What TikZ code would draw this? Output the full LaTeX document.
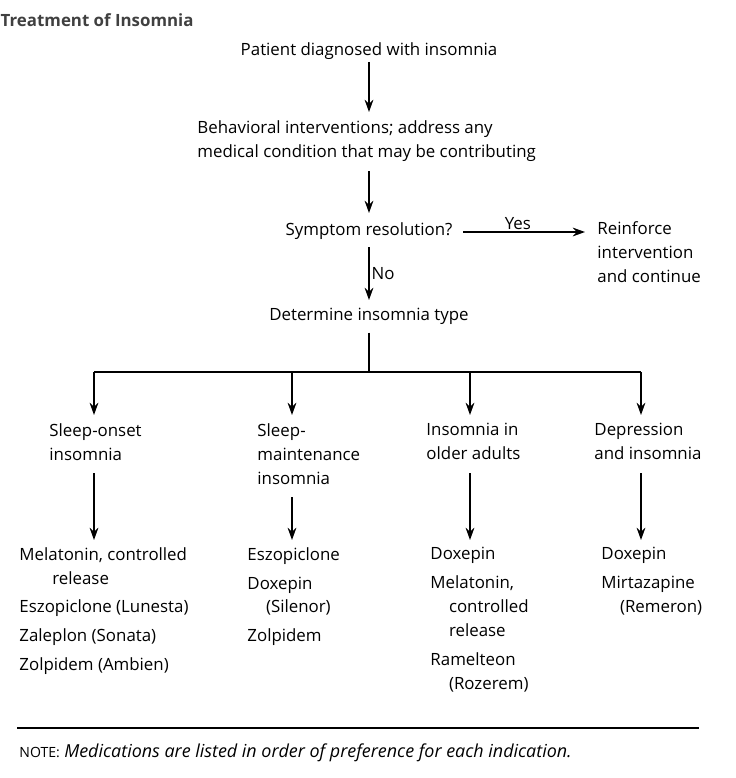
\documentclass[tikz,border=0pt]{standalone}
\usepackage{fontspec}
\setmainfont{Open Sans}
\usetikzlibrary{positioning,arrows.meta}
\begin{document}
\begin{tikzpicture}[x=0.02cm,y=-0.02cm,thick,
    txt/.style={font=\fontsize{9.6}{13.6}\selectfont,align=left,inner sep=1pt},
    flow/.style={-{Stealth[length=7pt,width=5pt]},line width=0.9pt}]
    \useasboundingbox (0,0) rectangle (736,778);
    % Title
    \node[anchor=west,font=\bfseries\fontsize{9.6}{12}\selectfont,text=black!75,inner sep=0pt] (title) at (0,20) {Treatment of Insomnia};
    % Main flow
    \node[txt] (diag) at (369,51) {Patient diagnosed with insomnia};
    \node[txt,anchor=north west] (behav) at (195,118) {Behavioral interventions; address any\\medical condition that may be contributing};
    \node[txt] (sympt) at (369,231) {Symptom resolution?};
    \node[txt,anchor=north west] (reinf) at (595,219) {Reinforce\\intervention\\and continue};
    \node[txt] (dtype) at (369,316) {Determine insomnia type};
    \draw[flow] (diag) -- (369,112);
    \draw[flow] (369,171) -- (369,213);
    \draw[flow] (463,232) -- node[above,txt,pos=0.45] {Yes} (585,232);
    \draw[flow] (369,247) -- node[right,txt] {No} (369,300);
    % Branches
    \coordinate (bra) at (369,372);
    \draw (dtype.south) ++(0,6) -- (bra);
    \draw (94,372) -- (641,372);
    \foreach \x in {94,292,470,641} \draw[flow] (\x,372) -- (\x,415);
    % Insomnia types
    \node[txt,anchor=north west] (onset) at (47,421) {Sleep-onset\\insomnia};
    \node[txt,anchor=north west] (maint) at (255,421) {Sleep-\\maintenance\\insomnia};
    \node[txt,anchor=north west] (older) at (424,421) {Insomnia in\\older adults};
    \node[txt,anchor=north west] (depr) at (592,421) {Depression\\and insomnia};
    \draw[flow] (94,473) -- (94,540);
    \draw[flow] (292,497) -- (292,540);
    \draw[flow] (470,473) -- (470,540);
    \draw[flow] (641,473) -- (641,540);
    % Medications
    \node[txt,anchor=north west] (medA) at (17,545) {Melatonin, controlled\\\hspace*{1.95em}release\\[2.8pt]Eszopiclone (Lunesta)\\[2.8pt]Zaleplon (Sonata)\\[2.8pt]Zolpidem (Ambien)};
    \node[txt,anchor=north west] (medB) at (245,545) {Eszopiclone\\[2.8pt]Doxepin\\\hspace*{1.1em}(Silenor)\\[2.8pt]Zolpidem};
    \node[txt,anchor=north west] (medC) at (428,545) {Doxepin\\[2.8pt]Melatonin,\\\hspace*{1.1em}controlled\\\hspace*{1.1em}release\\[2.8pt]Ramelteon\\\hspace*{1.1em}(Rozerem)};
    \node[txt,anchor=north west] (medD) at (599,545) {Doxepin\\[2.8pt]Mirtazapine\\\hspace*{1.1em}(Remeron)};
    % Note
    \draw[line width=0.8pt] (17,728) -- (699,728);
    \node[txt,anchor=west] (note) at (17,753) {{\fontsize{8}{10}\selectfont NOTE:} \textit{\fontsize{10.2}{12}\selectfont Medications are listed in order of preference for each indication.}};
\end{tikzpicture}
\end{document}
